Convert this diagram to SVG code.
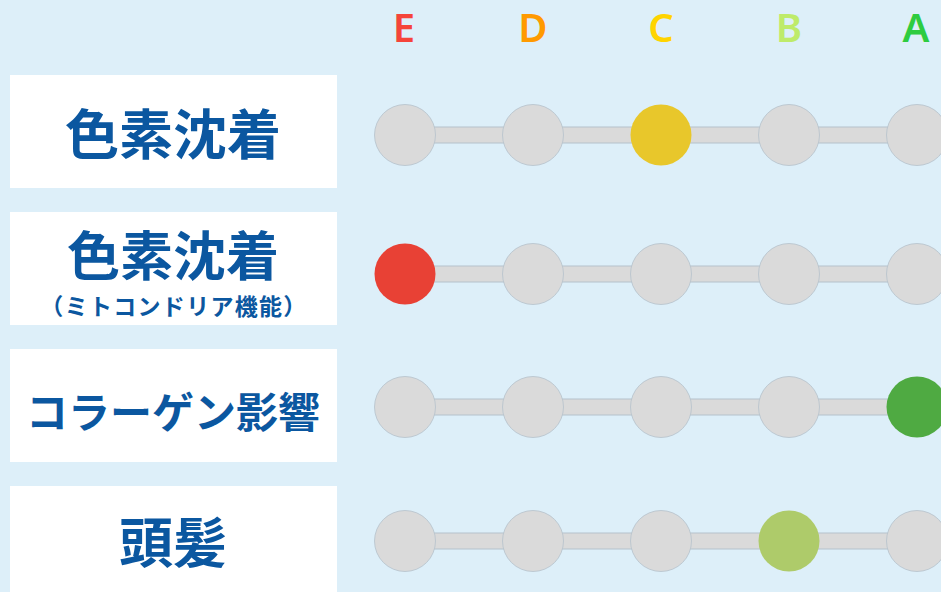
<svg xmlns="http://www.w3.org/2000/svg" width="941" height="592" viewBox="0 0 941 592">
<style>
.box{fill:#ffffff}
.lbl{font-family:"Noto Sans CJK JP","Noto Sans",sans-serif;font-weight:700;fill:#0B57A0;text-anchor:middle}
.grade{font-family:"Noto Sans","DejaVu Sans",sans-serif;font-weight:600;font-size:40px;text-anchor:middle}
.bar{fill:#DADADA;stroke:#B5C2CC;stroke-width:1}
.off{fill:#DADADA;stroke:#B5C2CC;stroke-width:0.8}
</style>
<rect width="941" height="592" fill="#DDEFF9"/>
<g id="grades">
<text class="grade" x="404" y="42" fill="#F5443A">E</text>
<text class="grade" x="533" y="42" fill="#FF9A00">D</text>
<text class="grade" x="661" y="42" fill="#FFD400">C</text>
<text class="grade" x="789" y="42" fill="#BEEB6A">B</text>
<text class="grade" x="916" y="42" fill="#2ECC40">A</text>
</g>
<g id="label1"><rect class="box" x="10" y="75" width="327" height="113"/><text class="lbl" x="173" y="155" font-size="54">色素沈着</text></g>
<g id="label2"><rect class="box" x="10" y="212" width="327" height="113"/><text class="lbl" x="173" y="276" font-size="53">色素沈着</text><text class="lbl" x="174" y="315" font-size="23" font-weight="600" letter-spacing="1.3">（ミトコンドリア機能）</text></g>
<g id="label3"><rect class="box" x="10" y="349" width="327" height="113"/><text class="lbl" x="173" y="428" font-size="42">コラーゲン影響</text></g>
<g id="label4"><rect class="box" x="10" y="486" width="327" height="110"/><text class="lbl" x="173" y="563" font-size="54">頭髪</text></g>
<g id="connectors">
<rect class="bar" x="405" y="127" width="545" height="16"/>
<rect class="bar" x="405" y="266" width="545" height="16"/>
<rect class="bar" x="405" y="399" width="545" height="16"/>
<rect class="bar" x="405" y="533" width="545" height="16"/>
</g>
<g id="row1">
<circle class="off" cx="405" cy="135" r="30.5"/><circle class="off" cx="533" cy="135" r="30.5"/><circle cx="661" cy="135" r="30.5" fill="#E8C72B"/><circle class="off" cx="789" cy="135" r="30.5"/><circle class="off" cx="917" cy="135" r="30.5"/>
</g>
<g id="row2">
<circle cx="405" cy="274" r="30.5" fill="#E84135"/><circle class="off" cx="533" cy="274" r="30.5"/><circle class="off" cx="661" cy="274" r="30.5"/><circle class="off" cx="789" cy="274" r="30.5"/><circle class="off" cx="917" cy="274" r="30.5"/>
</g>
<g id="row3">
<circle class="off" cx="405" cy="407" r="30.5"/><circle class="off" cx="533" cy="407" r="30.5"/><circle class="off" cx="661" cy="407" r="30.5"/><circle class="off" cx="789" cy="407" r="30.5"/><circle cx="917" cy="407" r="30.5" fill="#4FAA42"/>
</g>
<g id="row4">
<circle class="off" cx="405" cy="541" r="30.5"/><circle class="off" cx="533" cy="541" r="30.5"/><circle class="off" cx="661" cy="541" r="30.5"/><circle cx="789" cy="541" r="30.5" fill="#AECB6A"/><circle class="off" cx="917" cy="541" r="30.5"/>
</g>
</svg>
